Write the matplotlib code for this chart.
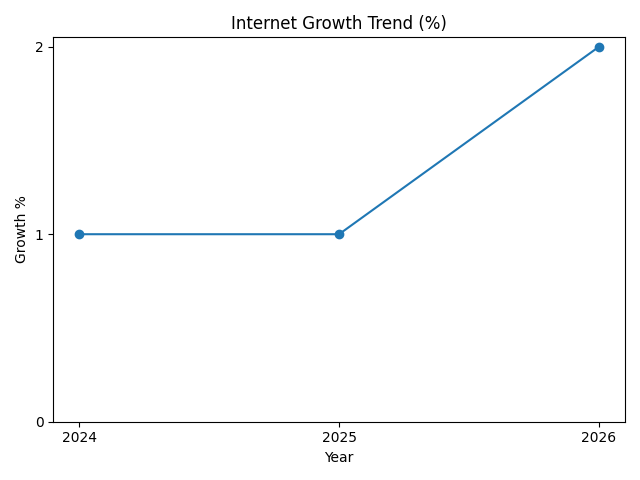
import matplotlib
matplotlib.use("Agg")
import matplotlib.pyplot as plt

# growth data
years = [2024, 2025, 2026]
growth = [1, 1, 2]
y_ticks = [0, 1, 2]

fig, ax = plt.subplots(figsize=(6.4, 4.8), dpi=100)
ax.plot(years, growth, marker='o')

ax.set_title("Internet Growth Trend (%)")
ax.set_xlabel("Year")
ax.set_ylabel("Growth %")
ax.set_xticks(years)
ax.set_yticks(y_ticks)
ax.set_ylim(bottom=0)

plt.tight_layout()
plt.savefig("out.png")
